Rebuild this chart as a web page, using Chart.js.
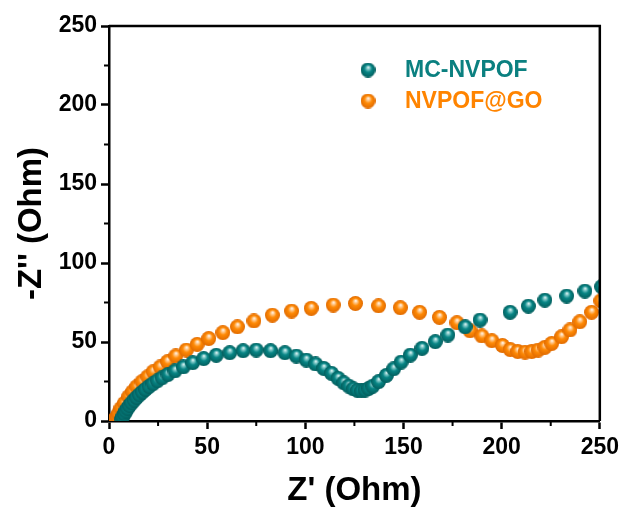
<!DOCTYPE html>
<html>
<head>
<meta charset="utf-8">
<script src="https://cdn.jsdelivr.net/npm/chart.js@4.4.0/dist/chart.umd.min.js"></script>
<style>
  html, body { margin: 0; padding: 0; background: #fff; }
  #wrap { width: 624px; height: 512px; }
</style>
</head>
<body>
<div id="wrap"><canvas id="eis" width="624" height="512"></canvas></div>
<script>
// MC-NVPOF (Z', -Z'')
const mcX = [6.5, 7, 7.8, 8.6, 9.5, 10.5, 11.6, 12.8, 14.1, 15.5, 17, 18.6, 20.4, 22.4, 24.6, 27, 30, 33.6, 37.8, 42.6,
  48.2, 54.6, 61.5, 68.3, 75, 82.3, 89.6, 95.4, 100.5, 105.2, 109.4, 113.3, 116.7, 119.6, 122.1, 124.4, 126.5, 128.5, 130.4, 132.3,
  134.3, 137.3, 141.3, 145, 148.8, 153.5, 159.4, 166.2, 172.6, 181.4, 189, 204.3, 213.6, 222, 233.1, 242.4, 250.9];
const mcY = [1, 2.7, 4.5, 6.3, 8, 9.8, 11.5, 13.2, 14.9, 16.6, 18.3, 20, 21.8, 23.6, 25.4, 27.3, 29.4, 31.7, 34.2, 36.9,
  39.5, 41.6, 43.2, 44.5, 44.9, 44.5, 43.2, 41.1, 38.6, 36.1, 33.3, 30.2, 27, 24.2, 22.1, 20.4, 19.4, 19.1, 19.6, 20.6,
  22, 24.9, 28.9, 33, 37.3, 41.7, 46, 50.2, 54.4, 59.6, 63.9, 68.8, 72.7, 76.5, 79.1, 82.2, 85];

// NVPOF@GO (Z', -Z'')
const goX = [2.8, 3.5, 4.4, 4.9, 6.1, 7.8, 10, 12, 14.1, 16.8, 19.7, 22.5, 26.1, 29.8, 34, 39.4, 44.9, 50.8, 58, 65.4,
  73.8, 83.2, 93, 103, 114.2, 125.5, 137.3, 148.4, 158.2, 168.3, 177.2, 183.9, 189.9, 195, 200.4, 204.4, 208.2, 211.9, 215.3, 218.6,
  222, 225.5, 230.5, 234.8, 239.8, 245.8, 250.5];
const goY = [0.8, 1.8, 2.7, 4.9, 8, 11.2, 15.4, 18.5, 21.7, 24.9, 28, 31.2, 34.2, 37.5, 41.2, 44.9, 48.5, 52.2, 55.9, 59.6,
  63.3, 67, 69.6, 71.3, 73.4, 74.4, 72.9, 71.7, 68.8, 65.6, 62.2, 57.1, 53.8, 50.8, 47.8, 45.2, 44, 43.6, 44, 44.9,
  46.6, 49.1, 53.3, 57.6, 62.8, 68.8, 76];

const xTicks = [0, 50, 100, 150, 200, 250];
const yTicks = [0, 50, 100, 150, 200, 250];
const minorTicks = [25, 75, 125, 175, 225];
const seriesNames = ['MC-NVPOF', 'NVPOF@GO'];

const FONT = '"Liberation Sans", Arial, sans-serif';
Chart.defaults.font.family = FONT;
Chart.defaults.color = '#000';

// shaded ball used as the marker
function ball(base, light, dark, r) {
  const c = document.createElement('canvas');
  c.width = c.height = r * 2;
  const g = c.getContext('2d');
  const grad = g.createRadialGradient(r * 1.05, r * 0.62, 0, r, r, r);
  grad.addColorStop(0, '#ffffff');
  grad.addColorStop(0.18, light);
  grad.addColorStop(0.5, base);
  grad.addColorStop(1, dark);
  g.fillStyle = grad;
  g.beginPath();
  g.arc(r, r, r, 0, Math.PI * 2);
  g.fill();
  return c;
}

const tealBall = ball('#078585', '#8fd0d0', '#035e5d', 7.5);
const orangeBall = ball('#ff8a05', '#ffd2a0', '#e06a00', 7.5);

const toPts = (xs, ys) => xs.map((x, i) => ({ x: x, y: ys[i] }));

const frame = {
  id: 'frame',
  afterDatasetsDraw(chart) {
    const { ctx, chartArea: a, scales } = chart;
    ctx.save();
    ctx.strokeStyle = '#000';
    ctx.lineWidth = 2.5;
    ctx.beginPath();
    ctx.moveTo(a.left, a.top);
    ctx.lineTo(a.right, a.top);
    ctx.lineTo(a.right, a.bottom);
    ctx.stroke();
    // minor ticks
    ctx.lineWidth = 2;
    ctx.beginPath();
    minorTicks.forEach(v => {
      const px = scales.x.getPixelForValue(v);
      ctx.moveTo(px, a.bottom);
      ctx.lineTo(px, a.bottom + 5);
      const py = scales.y.getPixelForValue(v);
      ctx.moveTo(a.left, py);
      ctx.lineTo(a.left - 5, py);
    });
    ctx.stroke();
    ctx.restore();
  },
  afterDraw(chart) {
    const { ctx, chartArea: a } = chart;
    ctx.save();
    ctx.font = 'bold 23px ' + FONT;
    ctx.textBaseline = 'middle';
    chart.data.datasets.forEach((ds, i) => {
      const x = a.left + 259;
      const y = a.top + 44 + i * 31;
      const img = ds.pointStyle;
      ctx.drawImage(img, x - img.width / 2, y - img.height / 2);
      ctx.fillStyle = ds.textColor;
      ctx.fillText(ds.label, x + 37, y + 1);
    });
    ctx.restore();
  }
};

new Chart(document.getElementById('eis'), {
  type: 'scatter',
  data: {
    datasets: [
      {
        label: seriesNames[0],
        data: toPts(mcX, mcY),
        pointStyle: tealBall,
        pointRadius: 7.5,
        textColor: '#0b8080',
        clip: 0
      },
      {
        label: seriesNames[1],
        data: toPts(goX, goY),
        pointStyle: orangeBall,
        pointRadius: 7.5,
        textColor: '#ff8400',
        clip: 0
      }
    ]
  },
  options: {
    responsive: false,
    animation: false,
    layout: { padding: { top: 26, right: 23, left: 0, bottom: 0 } },
    plugins: {
      legend: { display: false },
      tooltip: { enabled: false }
    },
    scales: {
      x: {
        type: 'linear',
        min: 0,
        max: 250,
        afterBuildTicks: s => { s.ticks = xTicks.map(v => ({ value: v })); },
        afterFit: s => { s.height = 91; },
        grid: { display: true, drawOnChartArea: false, drawTicks: true, tickLength: 8, tickWidth: 2.5, tickColor: '#000' },
        border: { display: true, color: '#000', width: 2.5 },
        ticks: { color: '#000', font: { size: 23, weight: 'bold' }, padding: 5, maxRotation: 0 },
        title: {
          display: true,
          text: "Z' (Ohm)",
          color: '#000',
          font: { size: 33, weight: 'bold', lineHeight: 1.2 },
          padding: { top: 0, bottom: 1 }
        }
      },
      y: {
        type: 'linear',
        min: 0,
        max: 250,
        afterBuildTicks: s => { s.ticks = yTicks.map(v => ({ value: v })); },
        afterFit: s => { s.width = 109; },
        grid: { display: true, drawOnChartArea: false, drawTicks: true, tickLength: 8, tickWidth: 2.5, tickColor: '#000' },
        border: { display: true, color: '#000', width: 2.5 },
        ticks: { color: '#000', font: { size: 23, weight: 'bold' }, padding: 4 },
        title: {
          display: true,
          text: "-Z'' (Ohm)",
          color: '#000',
          font: { size: 33, weight: 'bold', lineHeight: 1.2 },
          padding: { top: 12, bottom: 0 }
        }
      }
    }
  },
  plugins: [frame]
});
</script>
</body>
</html>
